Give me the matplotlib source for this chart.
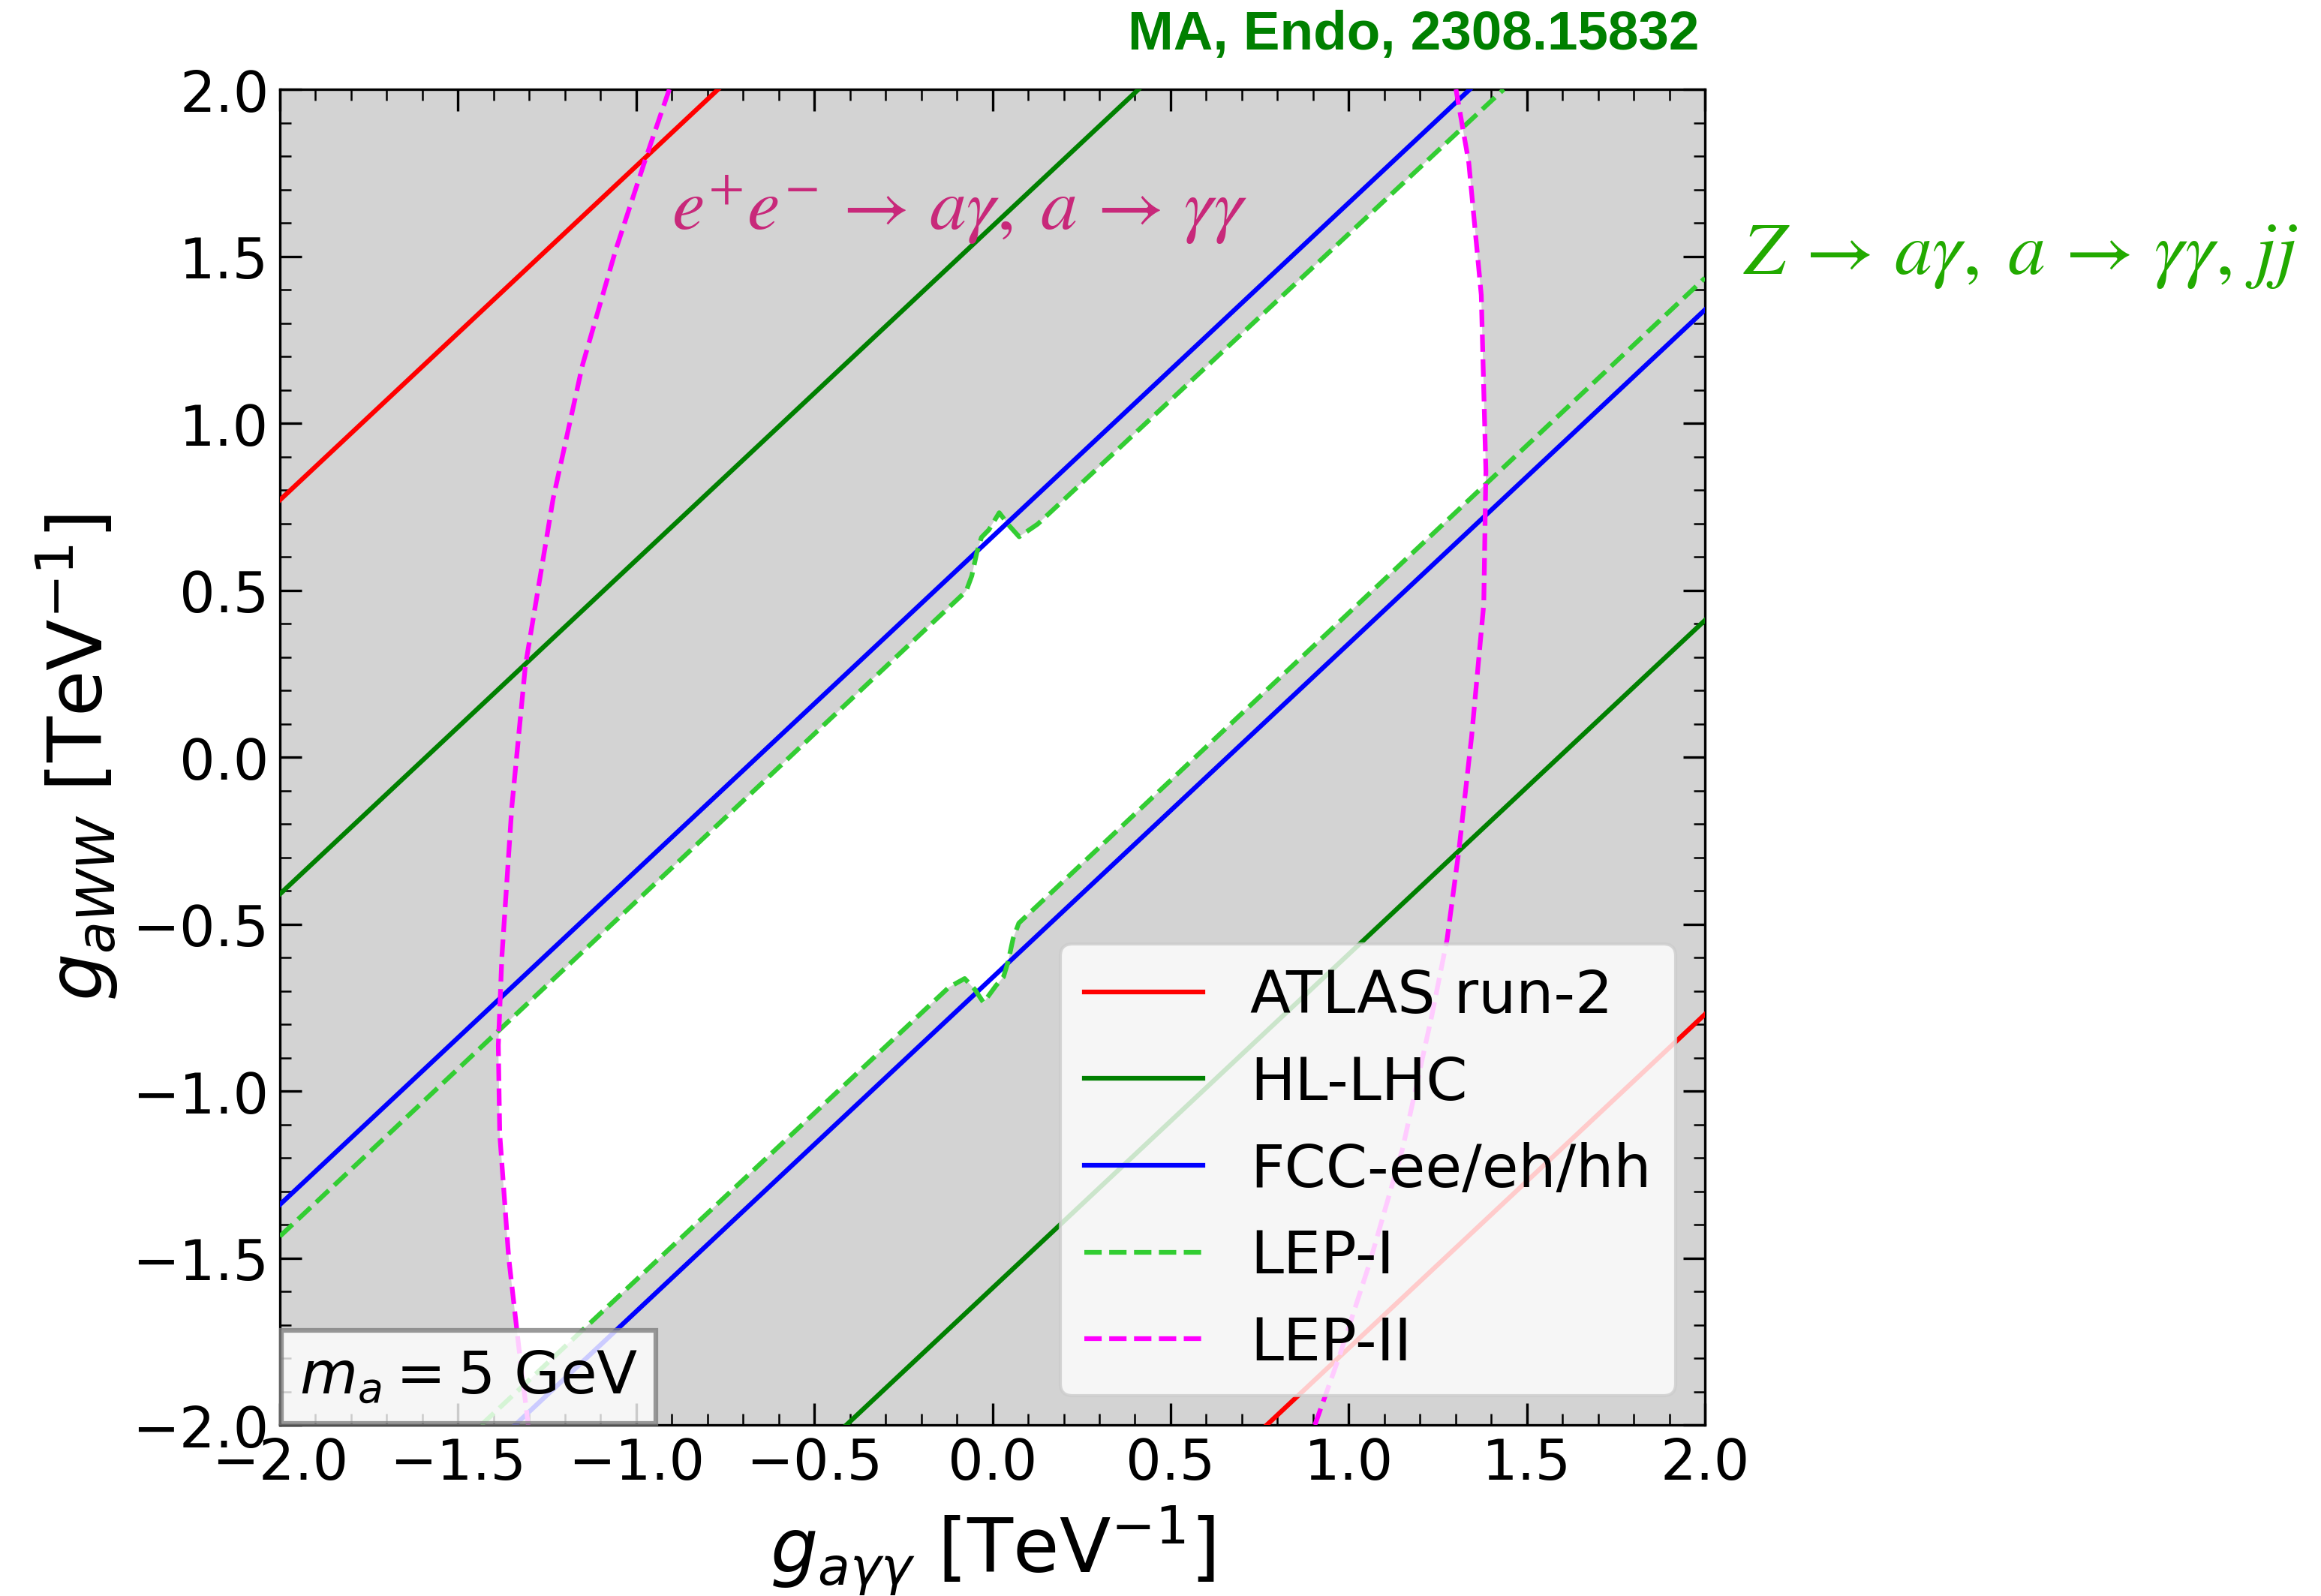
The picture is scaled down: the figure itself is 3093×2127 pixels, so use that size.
# Imports =====================================================================
import numpy as np
import matplotlib
matplotlib.use("Agg")
import matplotlib.pyplot as plt
from matplotlib.patches import Polygon
from matplotlib.ticker import MultipleLocator

# Data (couplings in TeV^-1) ==================================================
# ATLAS run-2
atlas_up_x = [-2.0, -0.77]
atlas_up_y = [0.77, 2.0]
atlas_lo_x = [0.77, 2.0]
atlas_lo_y = [-2.0, -0.77]
# HL-LHC
hllhc_up_x = [-2.0, 0.41]
hllhc_up_y = [-0.41, 2.0]
hllhc_lo_x = [-0.41, 2.0]
hllhc_lo_y = [-2.0, 0.41]
# FCC-ee/eh/hh
fcc_up_x = [-2.0, 1.34]
fcc_up_y = [-1.34, 2.0]
fcc_lo_x = [-1.34, 2.0]
fcc_lo_y = [-2.0, 1.34]
# LEP-I (Z -> a gamma)
lep1_up_x = [-2.0, -0.074, -0.058, -0.044, -0.031, -0.010, 0.019, 0.048, 0.075, 0.127, 1.435]
lep1_up_y = [-1.435, 0.497, 0.543, 0.612, 0.658, 0.681, 0.732, 0.692, 0.660, 0.698, 2.0]
lep1_lo_x = [-1.435, -0.122, -0.078, -0.050, -0.025, 0.010, 0.031, 0.044, 0.058, 0.074, 2.0]
lep1_lo_y = [-2.0, -0.689, -0.663, -0.695, -0.735, -0.684, -0.658, -0.612, -0.543, -0.497, 1.435]
# LEP-II (e+e- -> a gamma)
lep2_left_x = [-0.907, -0.973, -1.058, -1.151, -1.233, -1.311, -1.349, -1.377, -1.387, -1.383, -1.358, -1.330, -1.303]
lep2_left_y = [2.0, 1.794, 1.517, 1.173, 0.775, 0.274, -0.148, -0.598, -0.863, -1.128, -1.497, -1.762, -2.0]
lep2_right_x = [0.905, 0.975, 1.058, 1.151, 1.233, 1.276, 1.309, 1.345, 1.379, 1.385, 1.372, 1.337, 1.301]
lep2_right_y = [-2.0, -1.790, -1.517, -1.173, -0.775, -0.546, -0.281, 0.063, 0.458, 0.856, 1.384, 1.78, 2.0]

# Plot ========================================================================
fig = plt.figure(figsize=(10.31, 7.0933), dpi=300)
ax = fig.add_axes([0.1206, 0.1071, 0.6140, 0.8365])
ax.set_facecolor("lightgray")

# allowed region: inside the LEP-I band and inside the LEP-II curves
band_x = np.concatenate([lep1_up_x, lep1_lo_x[::-1]])
band_y = np.concatenate([lep1_up_y, lep1_lo_y[::-1]])
lep2_region = Polygon(
    np.column_stack([np.r_[lep2_left_x, lep2_right_x], np.r_[lep2_left_y, lep2_right_y]]),
    closed=True, transform=ax.transData)
allowed = ax.fill(band_x, band_y, color="white", lw=0, zorder=1)[0]
allowed.set_clip_path(lep2_region)

lw = 1.5
ax.plot(atlas_up_x, atlas_up_y, color="red", lw=lw, label="ATLAS run-2", zorder=3)
ax.plot(atlas_lo_x, atlas_lo_y, color="red", lw=lw, zorder=3)
ax.plot(hllhc_up_x, hllhc_up_y, color="green", lw=lw, label="HL-LHC", zorder=3)
ax.plot(hllhc_lo_x, hllhc_lo_y, color="green", lw=lw, zorder=3)
ax.plot(fcc_up_x, fcc_up_y, color="blue", lw=lw, label="FCC-ee/eh/hh", zorder=3)
ax.plot(fcc_lo_x, fcc_lo_y, color="blue", lw=lw, zorder=3)
ax.plot(lep1_up_x, lep1_up_y, color="limegreen", ls="--", lw=lw, label="LEP-I", zorder=3)
ax.plot(lep1_lo_x, lep1_lo_y, color="limegreen", ls="--", lw=lw, zorder=3)
ax.plot(lep2_left_x, lep2_left_y, color="magenta", ls="--", lw=lw, label="LEP-II", zorder=3)
ax.plot(lep2_right_x, lep2_right_y, color="magenta", ls="--", lw=lw, zorder=3)

ax.set_xlim(-2, 2)
ax.set_ylim(-2, 2)
ax.xaxis.set_major_locator(MultipleLocator(0.5))
ax.yaxis.set_major_locator(MultipleLocator(0.5))
ax.xaxis.set_minor_locator(MultipleLocator(0.1))
ax.yaxis.set_minor_locator(MultipleLocator(0.1))
ax.tick_params(which="both", direction="in", top=True, right=True, labelsize=18)
ax.tick_params(which="major", length=7)
ax.tick_params(which="minor", length=3.5)
ax.set_xlabel(r"$g_{a\gamma\gamma}$ [TeV$^{-1}$]", fontsize=24)
ax.set_ylabel(r"$g_{aWW}$ [TeV$^{-1}$]", fontsize=24)

ax.legend(loc="lower right", fontsize=19, facecolor="white", framealpha=0.8)

ax.text(0.0137, 0.0146, r"$m_a = 5$ GeV", transform=ax.transAxes, fontsize=19,
        ha="left", va="bottom", zorder=5,
        bbox=dict(boxstyle="square", facecolor="white", edgecolor="gray", alpha=0.8, lw=1.5))
ax.text(-0.9, 1.64, r"$e^{+}e^{-}\,\to\,a\gamma,\;a\,\to\,\gamma\gamma$", color="#c8287a",
        fontsize=23.5, math_fontfamily="stix", va="center", ha="left", zorder=5)
ax.text(1.027, 0.877, r"$Z\,\to\,a\gamma,\;a\,\to\,\gamma\gamma,\,jj$", transform=ax.transAxes,
        color="#22aa00", fontsize=24, math_fontfamily="stix", va="center", ha="left",
        clip_on=False)
fig.text(0.732, 0.978, "MA, Endo, 2308.15832", color="green", fontsize=17.5,
         fontweight="bold", family="Liberation Sans", ha="right", va="center")

fig.savefig("out.png", dpi=300)

# ##### END OF FILE ###########################################################
